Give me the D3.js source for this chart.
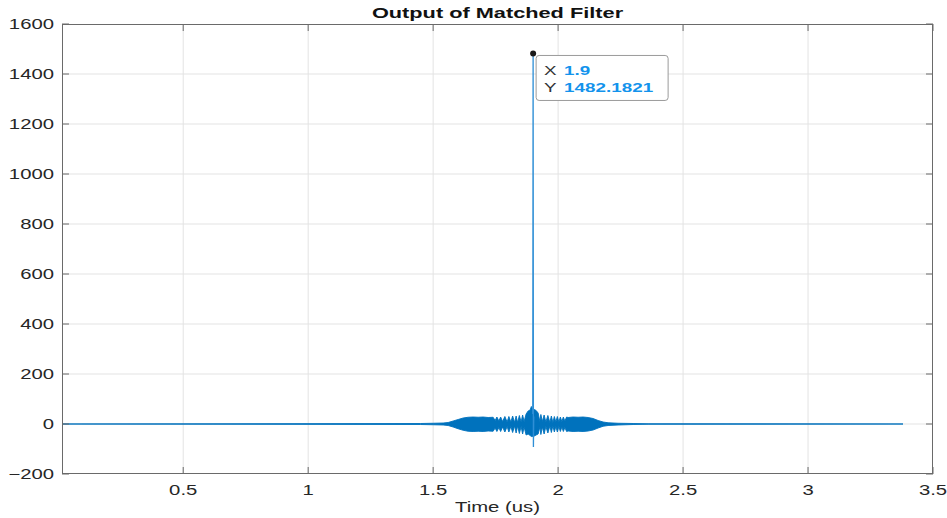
<!DOCTYPE html>
<html>
<head>
<meta charset="utf-8">
<script src="https://cdn.jsdelivr.net/npm/d3@7"></script>
<style>
  html, body { margin: 0; padding: 0; background: #fff; }
  svg { display: block; }
  text { font-family: "Liberation Sans", Arial, Helvetica, sans-serif; }
</style>
</head>
<body>
<svg id="chart" width="947" height="518"></svg>
<script>
// ---- data ----------------------------------------------------------------
const xTicks = [0.5, 1, 1.5, 2, 2.5, 3, 3.5];
const yTicks = [-200, 0, 200, 400, 600, 800, 1000, 1200, 1400, 1600];
const xLimits = [0.015, 3.5];
const yLimits = [-200, 1600];

// envelope of the filter output (time in us, upper and lower extent)
const envT = [0.015, 1.45, 1.50, 1.54, 1.56, 1.58, 1.60, 1.62, 1.64, 1.66, 1.68, 1.70, 1.72, 1.74,
  1.748, 1.755, 1.763, 1.770, 1.778, 1.787, 1.796, 1.803, 1.811, 1.818, 1.826, 1.832, 1.838,
  1.845, 1.852, 1.858, 1.864, 1.872, 1.880, 1.888, 1.893, 1.897, 1.905, 1.912, 1.920, 1.927,
  1.931, 1.937, 1.944, 1.951, 1.959, 1.967, 1.973, 1.979, 1.985, 1.991, 1.997, 2.003, 2.009,
  2.015, 2.021, 2.027, 2.034, 2.04, 2.06, 2.08, 2.10, 2.12, 2.14, 2.16, 2.18, 2.20, 2.24, 2.30,
  2.36, 3.38];
const envHi = [0, 2, 3, 4, 6, 12, 18, 24, 27, 28, 27, 28, 26, 27,
  14, 28, 12, 28, 10, 30, 8, 30, 8, 32, 6, 32, 6,
  34, 8, 36, 10, 40, 52, 56, 70, 60, 58, 54, 44, 10,
  38, 10, 36, 8, 34, 6, 32, 6, 30, 8, 30, 8, 28,
  10, 28, 12, 28, 26, 28, 27, 28, 26, 22, 14, 8, 5, 3, 2,
  1, 0];
const envLo = [0, -2, -3, -4, -6, -12, -19, -25, -29, -30, -29, -30, -28, -29,
  -16, -30, -14, -30, -12, -32, -10, -32, -10, -34, -8, -36, -8,
  -38, -10, -40, -12, -44, -40, -46, -50, -50, -48, -44, -40, -12,
  -42, -12, -40, -10, -36, -8, -34, -8, -32, -10, -32, -10, -30,
  -12, -30, -14, -30, -28, -30, -29, -30, -28, -24, -16, -9, -6, -4, -2,
  -1, 0];

// main lobe of the compressed pulse
const peakT = [1.8985, 1.9, 1.9012, 1.9025];
const peakY = [40, 1482.1821, -92, 30];

// data tip
const tipX = 1.9;
const tipY = 1482.1821;

const titleText = "Output of Matched Filter";
const xLabelText = "Time (us)";

// ---- layout --------------------------------------------------------------
const plot = { left: 62, right: 933, top: 24, bottom: 474 };
const STRETCH = 1.45;
const blue = "#0072BD";

const svg = d3.select("#chart");
const x = d3.scaleLinear().domain(xLimits).range([plot.left, plot.right]);
const y = d3.scaleLinear().domain(yLimits).range([plot.bottom, plot.top]);

function label(g, px, py, str, opts) {
  return g.append("text")
    .attr("transform", `translate(${px},${py}) scale(${opts.sx || STRETCH},1)`)
    .attr("text-anchor", opts.anchor || "middle")
    .attr("dominant-baseline", "central")
    .attr("font-size", opts.size || 14)
    .attr("font-weight", opts.weight || "normal")
    .attr("fill", opts.fill || "#262626")
    .text(str);
}

// grid
const grid = svg.append("g");
grid.selectAll("line.gx").data(xTicks.filter(t => t < xLimits[1])).join("line")
  .attr("x1", d => x(d)).attr("x2", d => x(d))
  .attr("y1", plot.top).attr("y2", plot.bottom)
  .attr("stroke", "#e3e3e3").attr("stroke-width", 1);
grid.selectAll("line.gy").data(yTicks.filter(t => t > yLimits[0] && t < yLimits[1])).join("line")
  .attr("x1", plot.left).attr("x2", plot.right)
  .attr("y1", d => y(d)).attr("y2", d => y(d))
  .attr("stroke", "#e3e3e3").attr("stroke-width", 1);

// signal
svg.append("defs").append("clipPath").attr("id", "clip")
  .append("rect").attr("x", plot.left).attr("y", plot.top)
  .attr("width", plot.right - plot.left).attr("height", plot.bottom - plot.top);

const sig = svg.append("g").attr("clip-path", "url(#clip)");
const envData = envT.map((t, i) => ({ t, hi: envHi[i], lo: envLo[i] }));
sig.append("path")
  .datum(envData)
  .attr("d", d3.area().x(d => x(d.t)).y0(d => y(d.lo)).y1(d => y(d.hi)))
  .attr("fill", blue)
  .attr("stroke", blue)
  .attr("stroke-width", 0.9)
  .attr("stroke-linejoin", "round");

const peakData = peakT.map((t, i) => ({ t, v: peakY[i] }));
sig.append("path")
  .datum(peakData)
  .attr("d", d3.line().x(d => x(d.t)).y(d => y(d.v)))
  .attr("fill", "none")
  .attr("stroke", "#2f8fd6")
  .attr("stroke-width", 1.3);

// axes box and ticks
const axisColor = "#6a6a6a";
const ticks = svg.append("g").attr("stroke", axisColor).attr("stroke-width", 1);
const tl = 7;
xTicks.forEach(t => {
  ticks.append("line").attr("x1", x(t)).attr("x2", x(t)).attr("y1", plot.bottom).attr("y2", plot.bottom - tl);
  ticks.append("line").attr("x1", x(t)).attr("x2", x(t)).attr("y1", plot.top).attr("y2", plot.top + tl);
});
yTicks.forEach(t => {
  ticks.append("line").attr("x1", plot.left).attr("x2", plot.left + tl).attr("y1", y(t)).attr("y2", y(t));
  ticks.append("line").attr("x1", plot.right).attr("x2", plot.right - tl).attr("y1", y(t)).attr("y2", y(t));
});
svg.append("rect")
  .attr("x", plot.left + 0.5).attr("y", plot.top + 0.5)
  .attr("width", plot.right - plot.left - 1).attr("height", plot.bottom - plot.top - 1)
  .attr("fill", "none").attr("stroke", axisColor).attr("stroke-width", 1);

// tick labels
const labels = svg.append("g");
const fmt = d3.format("");
xTicks.forEach(t => label(labels, x(t), 490, fmt(t), { size: 14 }));
yTicks.forEach(t => label(labels, plot.left - 8, y(t), fmt(t), { size: 14, anchor: "end" }));

// axis label and title
label(labels, (plot.left + plot.right) / 2, 507, xLabelText, { size: 14 });
label(labels, (plot.left + plot.right) / 2, 13, titleText, { size: 15, weight: "bold", fill: "#111" });

// data tip
const tip = svg.append("g");
const tpx = x(tipX), tpy = y(tipY);
tip.append("rect")
  .attr("x", tpx + 3).attr("y", tpy + 2)
  .attr("width", 132).attr("height", 45).attr("rx", 3)
  .attr("fill", "#ffffff").attr("stroke", "#9a9a9a").attr("stroke-width", 1);
tip.append("circle").attr("cx", tpx).attr("cy", tpy).attr("r", 3).attr("fill", "#1a1a1a");
label(tip, tpx + 11, tpy + 17, "X", { size: 13, anchor: "start", fill: "#333" });
label(tip, tpx + 31, tpy + 17, String(tipX), { size: 13, anchor: "start", weight: "bold", fill: "#1393ec" });
label(tip, tpx + 11, tpy + 34, "Y", { size: 13, anchor: "start", fill: "#333" });
label(tip, tpx + 31, tpy + 34, d3.format(".4f")(tipY), { size: 13, anchor: "start", weight: "bold", fill: "#1393ec" });
</script>
</body>
</html>
